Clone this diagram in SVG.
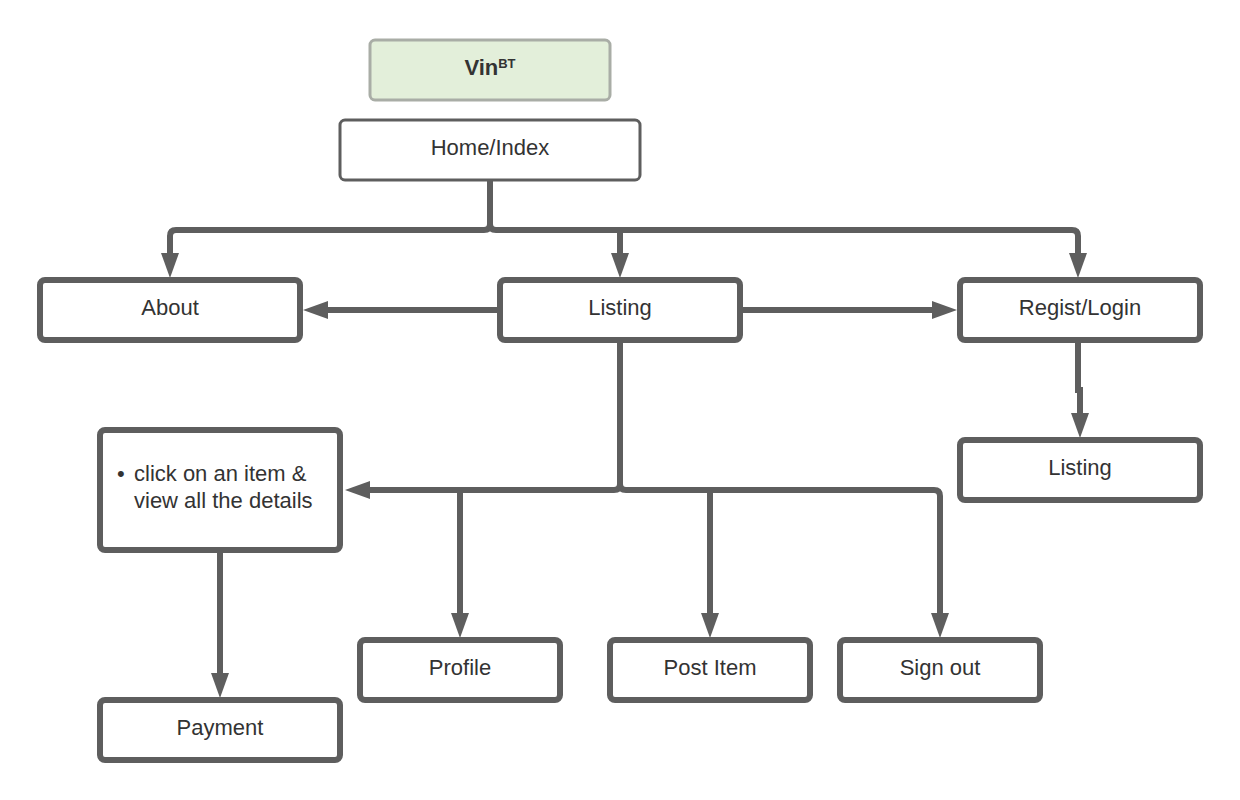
<svg xmlns="http://www.w3.org/2000/svg" width="1240" height="800" viewBox="0 0 1240 800">
<style>
.box{fill:#fff;stroke:#5e5e5e;stroke-width:6}
.thin{fill:#fff;stroke:#5e5e5e;stroke-width:3}
.title{fill:#e3efda;stroke:#a9ada6;stroke-width:3}
.lbl{font-family:"Liberation Sans",Arial,sans-serif;font-size:22px;fill:#333;text-anchor:middle;dominant-baseline:central}
.txt{font-family:"Liberation Sans",Arial,sans-serif;font-size:22px;fill:#333}
.edge{fill:none;stroke:#5e5e5e;stroke-width:6;marker-end:url(#arr)}
</style>
<defs>
<marker id="arr" markerUnits="userSpaceOnUse" markerWidth="26" markerHeight="20" refX="0" refY="9" orient="auto" viewBox="0 0 26 18">
<path d="M0,0 L25,9 L0,18 z" fill="#5e5e5e"/>
</marker>
</defs>
<rect width="1240" height="800" fill="#fff"/>
<g id="connectors">
<path class="edge" d="M490,180 V224 Q490,230 484,230 H176 Q170,230 170,236 V253"/>
<path class="edge" d="M490,180 V224 Q490,230 496,230 H1072 Q1078,230 1078,236 V253"/>
<path class="edge" d="M620,230 V253"/>
<path class="edge" d="M500,310 H328"/>
<path class="edge" d="M740,310 H932"/>
<path class="edge" d="M1078,340 V390 H1080 V413"/>
<path class="edge" d="M620,340 V484 Q620,490 614,490 H370"/>
<path class="edge" d="M620,340 V484 Q620,490 626,490 H934 Q940,490 940,496 V613"/>
<path class="edge" d="M460,490 V613"/>
<path class="edge" d="M710,490 V613"/>
<path class="edge" d="M220,550 V673"/>
</g>
<g id="vinbt">
<rect class="title" x="370" y="40" width="240" height="60" rx="5"/>
<text class="txt" x="490" y="75" text-anchor="middle" font-weight="bold">Vin<tspan font-size="13" dy="-7">BT</tspan></text>
</g>
<g id="home">
<rect class="thin" x="340" y="120" width="300" height="60" rx="5"/>
<text class="lbl" x="490" y="147">Home/Index</text>
</g>
<g id="about">
<rect class="box" x="40" y="280" width="260" height="60" rx="5"/>
<text class="lbl" x="170" y="307">About</text>
</g>
<g id="listing">
<rect class="box" x="500" y="280" width="240" height="60" rx="5"/>
<text class="lbl" x="620" y="307">Listing</text>
</g>
<g id="regist">
<rect class="box" x="960" y="280" width="240" height="60" rx="5"/>
<text class="lbl" x="1080" y="307">Regist/Login</text>
</g>
<g id="listing2">
<rect class="box" x="960" y="440" width="240" height="60" rx="5"/>
<text class="lbl" x="1080" y="467">Listing</text>
</g>
<g id="details">
<rect class="box" x="100" y="430" width="240" height="120" rx="5"/>
<text class="txt" x="117" y="481">•</text>
<text class="txt" x="134" y="481">click on an item &amp;</text>
<text class="txt" x="134" y="508">view all the details</text>
</g>
<g id="payment">
<rect class="box" x="100" y="700" width="240" height="60" rx="5"/>
<text class="lbl" x="220" y="727">Payment</text>
</g>
<g id="profile">
<rect class="box" x="360" y="640" width="200" height="60" rx="5"/>
<text class="lbl" x="460" y="667">Profile</text>
</g>
<g id="postitem">
<rect class="box" x="610" y="640" width="200" height="60" rx="5"/>
<text class="lbl" x="710" y="667">Post Item</text>
</g>
<g id="signout">
<rect class="box" x="840" y="640" width="200" height="60" rx="5"/>
<text class="lbl" x="940" y="667">Sign out</text>
</g>
</svg>
